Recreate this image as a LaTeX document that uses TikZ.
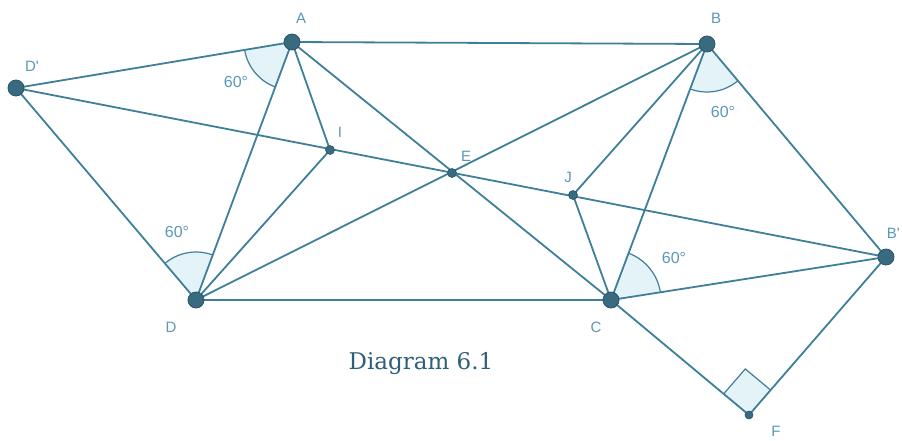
\documentclass[tikz,border=0pt]{standalone}
\usepackage{fontspec}
\setmainfont{DejaVu Serif}
\newfontfamily\lblfont{Liberation Sans}
\usetikzlibrary{angles,calc}
\definecolor{edgecol}{HTML}{3F7F99}
\definecolor{ptfill}{HTML}{3A6A80}
\definecolor{ptdraw}{HTML}{2A5468}
\definecolor{lblcol}{HTML}{5A98B8}
\definecolor{angfill}{HTML}{E4F3F8}
\definecolor{capcol}{HTML}{2F5F7A}
\begin{document}
\begin{tikzpicture}[x=1pt,y=-1pt,
  edge/.style={draw=edgecol,line width=1.8pt},
  bigpt/.style={circle,fill=ptfill,draw=ptdraw,line width=0.8pt,inner sep=0pt,minimum size=16pt},
  smallpt/.style={circle,fill=ptfill,draw=ptdraw,line width=0.6pt,inner sep=0pt,minimum size=9pt},
  lbl/.style={text=lblcol,font=\lblfont\fontsize{15}{15}\selectfont,inner sep=0pt},
  deg/.style={text=lblcol,font=\lblfont\fontsize{16}{16}\selectfont,inner sep=0pt},
  angmark/.style={draw=edgecol,fill=angfill,line width=1.2pt,angle radius=48pt}]
\useasboundingbox (0,0) rectangle (902,440);
\fill[white] (0,0) rectangle (902,440);
% coordinates
\coordinate (A) at (292,42);
\coordinate (B) at (707,44);
\coordinate (Dp) at (16,88);
\coordinate (D) at (196,300);
\coordinate (C) at (611,300);
\coordinate (Bp) at (886,257);
\coordinate (E) at (452,173);
\coordinate (I) at (330,150);
\coordinate (J) at (573,195);
\coordinate (F) at (749,415);
% angle marks
\pic[angmark] {angle=Dp--A--D};
\pic[angmark] {angle=C--B--Bp};
\pic[angmark] {angle=A--D--Dp};
\pic[angmark,angle radius=50pt] {angle=Bp--C--B};
\coordinate (F1) at ($(F)!33pt!(C)$);
\coordinate (F3) at ($(F)!33pt!(Bp)$);
\coordinate (F2) at ($(F1)+(F3)-(F)$);
\fill[angfill] (F) -- (F1) -- (F2) -- (F3) -- cycle;
\draw[draw=edgecol,line width=1.2pt] (F1) -- (F2) -- (F3);
% edges
\draw[edge] (A) -- (B);
\draw[edge] (A) -- (Dp);
\draw[edge] (Dp) -- (D);
\draw[edge] (Dp) -- (Bp);
\draw[edge] (A) -- (D);
\draw[edge] (A) -- (I);
\draw[edge] (A) -- (C);
\draw[edge] (B) -- (D);
\draw[edge] (D) -- (I);
\draw[edge] (D) -- (C);
\draw[edge] (B) -- (J);
\draw[edge] (B) -- (C);
\draw[edge] (B) -- (Bp);
\draw[edge] (C) -- (J);
\draw[edge] (C) -- (Bp);
\draw[edge] (C) -- (F);
\draw[edge] (F) -- (Bp);
% points
\node[bigpt] (nA) at (A) {};
\node[bigpt] (nB) at (B) {};
\node[bigpt] (nDp) at (Dp) {};
\node[bigpt] (nD) at (D) {};
\node[bigpt] (nC) at (C) {};
\node[bigpt] (nBp) at (Bp) {};
\node[smallpt] (nE) at (E) {};
\node[smallpt] (nI) at (I) {};
\node[smallpt] (nJ) at (J) {};
\node[smallpt,minimum size=8pt] (nF) at (F) {};
% labels
\node[lbl] (lA) at (301,18) {A};
\node[lbl] (lB) at (716,18) {B};
\node[lbl] (lDp) at (32,66) {D'};
\node[lbl] (lD) at (171,327) {D};
\node[lbl] (lC) at (596,327) {C};
\node[lbl,anchor=east] (lBp) at (900,233) {B'};
\node[lbl] (lE) at (466,156) {E};
\node[lbl] (lI) at (340,132) {I};
\node[lbl] (lJ) at (568,177) {J};
\node[lbl] (lF) at (776,431) {F};
\node[deg] (dA) at (236,82) {60°};
\node[deg] (dB) at (723,112) {60°};
\node[deg] (dD) at (177,232) {60°};
\node[deg] (dC) at (674,258) {60°};
% caption
\node[text=capcol,font=\fontsize{23}{23}\selectfont,inner sep=0pt] (cap) at (421,364) {Diagram 6.1};
\end{tikzpicture}
\end{document}
